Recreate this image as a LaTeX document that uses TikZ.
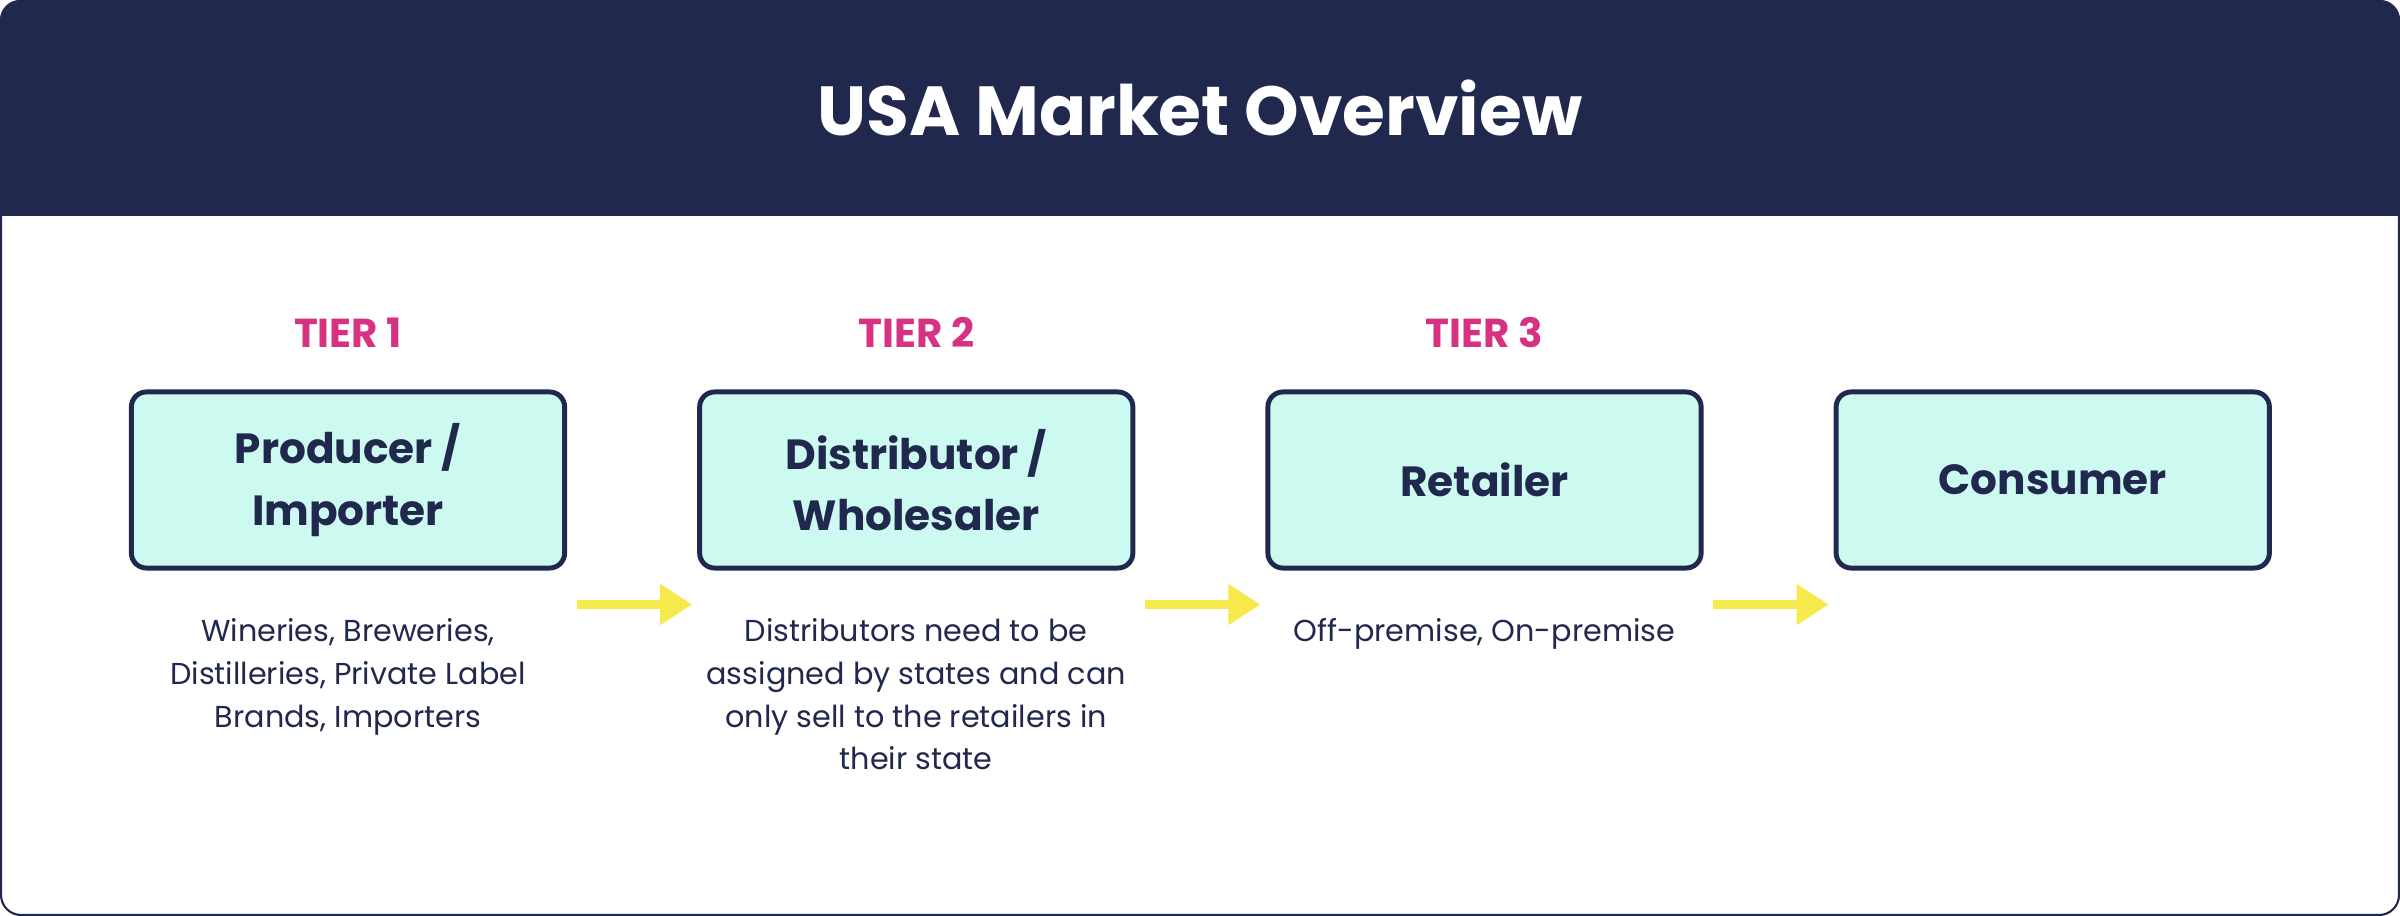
\documentclass[tikz,border=0pt]{standalone}
\usepackage{fontspec}
\setmainfont{Poppins}
\usetikzlibrary{positioning,calc,arrows.meta}
\definecolor{navy}{RGB}{33,40,77}
\definecolor{mint}{RGB}{205,250,240}
\definecolor{tierpink}{RGB}{215,50,130}
\definecolor{flowyellow}{RGB}{245,233,75}

\begin{document}
\begin{tikzpicture}[x=0.01cm, y=-0.01cm, node distance=1.30cm,
		tierbox/.style={rectangle, rounded corners=0.15cm, draw=navy, line width=1.4pt, fill=mint, minimum width=4.33cm, minimum height=1.76cm, align=center, text=navy, font=\fontsize{12.0}{17.4}\selectfont\bfseries},
		tierlabel/.style={inner sep=0pt, text=tierpink, font=\fontsize{11.5}{13}\selectfont\bfseries},
		tierdesc/.style={inner sep=0pt, align=center, text=navy, font=\fontsize{8.6}{12.2}\selectfont},
		flow/.style={draw=flowyellow, line width=2.56pt, -{Triangle[length=0.32cm, width=0.39cm]}}]
				\useasboundingbox (0,0) rectangle (2400,916);
				
				% frame and header
				\fill[navy] (0,216) [rounded corners=0.2cm] -- (0,0) -- (2400,0) [sharp corners] -- (2400,216) -- cycle;
				\draw[navy, line width=0.6pt, rounded corners=0.2cm] (1,1) rectangle (2399,915);
				\node[text=white, font=\fontsize{19.75}{23}\selectfont\bfseries] (title) at (1200,108) {USA Market Overview};
				
				% the four steps
				\node[tierbox] (prod) at (348,480) {Producer /\\Importer};
				\node[tierbox, right=of prod] (dist) {Distributor /\\Wholesaler};
				\node[tierbox, right=of dist] (ret) {Retailer};
				\node[tierbox, right=of ret] (cons) {Consumer};
				
				\node[tierlabel, above=0.41cm of prod] (tier1) {TIER 1};
				\node[tierlabel, above=0.41cm of dist] (tier2) {TIER 2};
				\node[tierlabel, above=0.41cm of ret] (tier3) {TIER 3};
				
				\node[tierdesc, below=0.47cm of prod] (proddesc) {Wineries, Breweries,\\Distilleries, Private Label\\Brands, Importers};
				\node[tierdesc, below=0.47cm of dist] (distdesc) {Distributors need to be\\assigned by states and can\\only sell to the retailers in\\their state};
				\node[tierdesc, below=0.47cm of ret] (retdesc) {Off-premise, On-premise};
				
				\draw[flow] ($(prod.south east)+(9.5,34)$) -- ($(dist.south west)+(-5,34)$);
				\draw[flow] ($(dist.south east)+(9.5,34)$) -- ($(ret.south west)+(-5,34)$);
				\draw[flow] ($(ret.south east)+(9.5,34)$) -- ($(cons.south west)+(-5,34)$);
			\end{tikzpicture}
\end{document}
